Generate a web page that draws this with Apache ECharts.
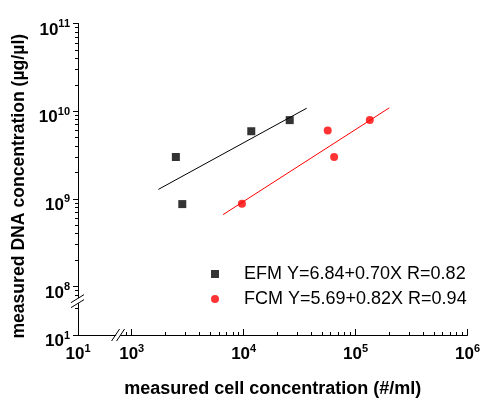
<!DOCTYPE html>
<html>
<head>
<meta charset="utf-8">
<script src="https://cdn.jsdelivr.net/npm/echarts@6/dist/echarts.min.js"></script>
<style>
  html, body { margin: 0; padding: 0; background: #fff; }
  #chart { width: 483px; height: 403px; }
</style>
</head>
<body>
<div id="chart"></div>
<script>
  // measured points (raw values)
  var efmX = [2480, 2830, 11700, 25800];
  var efmY = [3.0e9, 8.7e8, 5.9e9, 7.9e9];
  var fcmX = [9650, 56400, 64300, 134000];
  var fcmY = [8.8e8, 6.0e9, 3.0e9, 7.9e9];

  // fitted lines, end points as drawn
  var efmFitX = [1730, 36600];
  var efmFitY = [1.28e9, 1.08e10];
  var fcmFitX = [6550, 200000];
  var fcmFitY = [6.6e8, 1.09e10];

  var efmName = 'EFM Y=6.84+0.70X R=0.82';
  var fcmName = 'FCM Y=5.69+0.82X R=0.94';

  // tick labels (exponents of ten)
  var xTickExp = [1, 3, 4, 5, 6];
  var yTickExp = [1, 8, 9, 10, 11];

  // axis break: the low tick (10^1) sits just under the break
  var xLowPos = 2.52;   // where 10^1 is put on the x scale
  var yLowPos = 7.446;  // where 10^1 is put on the y scale
  var xBreakAt = 2.878;
  var yBreakAt = 7.838;

  var xMajor = [xLowPos, 3, 4, 5, 6];
  var yMajor = [yLowPos, 8, 9, 10, 11];

  var xMinor = [Math.log10(900)];
  for (var k = 3; k < 6; k++) {
    for (var m = 2; m <= 9; m++) xMinor.push(Math.log10(m) + k);
  }
  var yMinor = [yLowPos + Math.log10(2), Math.log10(8) + 7, Math.log10(9) + 7];
  for (var k2 = 8; k2 < 11; k2++) {
    for (var m2 = 2; m2 <= 9; m2++) yMinor.push(Math.log10(m2) + k2);
  }

  function toLog(xs, ys) {
    return xs.map(function (x, i) { return [Math.log10(x), Math.log10(ys[i])]; });
  }

  function expLabel(majors, exps) {
    return function (v) {
      for (var i = 0; i < majors.length; i++) {
        if (Math.abs(majors[i] - v) < 1e-6) return '{b|10}{s|' + exps[i] + '}';
      }
      return '';
    };
  }

  var fontFam = 'Liberation Sans, Arial, sans-serif';
  var richLbl = {
    b: { fontSize: 17, fontWeight: 'bold', fontFamily: fontFam, color: '#000', verticalAlign: 'bottom', lineHeight: 20 },
    s: { fontSize: 11, fontWeight: 'bold', fontFamily: fontFam, color: '#000', verticalAlign: 'bottom', lineHeight: 20, padding: [0, 0, 9, 0] }
  };
  var axisLineStyle = { show: true, onZero: false, lineStyle: { color: '#000', width: 1 } };

  var chart = echarts.init(document.getElementById('chart'));
  chart.setOption({
    animation: false,
    backgroundColor: '#fff',
    grid: { left: 78, right: 15, top: 23.5, bottom: 62 },
    legend: {
      left: 206,
      top: 260,
      orient: 'vertical',
      itemGap: 7,
      itemWidth: 8,
      itemHeight: 8,
      data: [efmName, fcmName],
      textStyle: { fontSize: 18, color: '#000', fontFamily: fontFam, padding: [0, 0, 0, 20] }
    },
    xAxis: [{
      type: 'value',
      min: xLowPos,
      max: 6,
      axisLine: axisLineStyle,
      axisTick: { show: true, inside: true, length: 6, customValues: xMajor, lineStyle: { color: '#000' } },
      axisLabel: {
        customValues: xMajor,
        margin: 8,
        fontSize: 17,
        fontWeight: 'bold',
        color: '#000',
        fontFamily: fontFam,
        formatter: expLabel(xMajor, xTickExp),
        rich: richLbl
      },
      splitLine: { show: false },
      name: 'measured cell concentration (#/ml)',
      nameLocation: 'middle',
      nameGap: 45,
      nameTextStyle: { fontSize: 18, fontWeight: 'bold', color: '#000', fontFamily: fontFam }
    }, {
      // minor ticks
      type: 'value',
      position: 'bottom',
      min: xLowPos,
      max: 6,
      axisLine: { show: false },
      axisTick: { show: true, inside: true, length: 3, customValues: xMinor, lineStyle: { color: '#000' } },
      axisLabel: { show: false },
      splitLine: { show: false }
    }],
    yAxis: [{
      type: 'value',
      min: yLowPos,
      max: 11,
      axisLine: axisLineStyle,
      axisTick: { show: true, inside: false, length: 5, customValues: yMajor, lineStyle: { color: '#000' } },
      axisLabel: {
        customValues: yMajor,
        margin: 8,
        padding: [10, 0, 0, 0],
        fontSize: 17,
        fontWeight: 'bold',
        color: '#000',
        fontFamily: fontFam,
        formatter: expLabel(yMajor, yTickExp),
        rich: richLbl
      },
      splitLine: { show: false },
      name: 'measured DNA concentration (µg/µl)',
      nameLocation: 'middle',
      nameRotate: 90,
      nameGap: 47,
      nameTextStyle: { fontSize: 17.6, fontWeight: 'bold', color: '#000', fontFamily: fontFam, padding: [0, 14, 0, 0] }
    }, {
      type: 'value',
      position: 'left',
      min: yLowPos,
      max: 11,
      axisLine: { show: false },
      axisTick: { show: true, inside: false, length: 3, customValues: yMinor, lineStyle: { color: '#000' } },
      axisLabel: { show: false },
      splitLine: { show: false }
    }],
    series: [{
      name: efmName + ' fit',
      type: 'line',
      data: toLog(efmFitX, efmFitY),
      symbol: 'none',
      lineStyle: { color: '#000', width: 1 },
      z: 1
    }, {
      name: fcmName + ' fit',
      type: 'line',
      data: toLog(fcmFitX, fcmFitY),
      symbol: 'none',
      lineStyle: { color: '#ff0000', width: 1 },
      z: 1
    }, {
      name: efmName,
      type: 'scatter',
      data: toLog(efmX, efmY),
      symbol: 'rect',
      symbolSize: 8,
      itemStyle: { color: '#000' },
      z: 3
    }, {
      name: fcmName,
      type: 'scatter',
      data: toLog(fcmX, fcmY),
      symbol: 'circle',
      symbolSize: 8,
      itemStyle: { color: '#ff0000' },
      z: 3
    }]
  });

  // break marks on the two axes
  var bx = chart.convertToPixel({ xAxisIndex: 0 }, xBreakAt);
  var by = chart.convertToPixel({ yAxisIndex: 0 }, yBreakAt);
  var axY = chart.convertToPixel({ yAxisIndex: 0 }, yLowPos);
  var axX = chart.convertToPixel({ xAxisIndex: 0 }, xLowPos);
  var brk = { stroke: '#000', lineWidth: 1 };
  chart.setOption({
    graphic: [
      { type: 'rect', shape: { x: bx - 2, y: axY - 2, width: 4, height: 4 }, style: { fill: '#fff' }, z: 10 },
      { type: 'line', shape: { x1: bx - 6.5, y1: axY + 6, x2: bx + 1.5, y2: axY - 6 }, style: brk, z: 11 },
      { type: 'line', shape: { x1: bx - 1.5, y1: axY + 6, x2: bx + 6.5, y2: axY - 6 }, style: brk, z: 11 },
      { type: 'rect', shape: { x: axX - 2, y: by - 2.5, width: 4, height: 5 }, style: { fill: '#fff' }, z: 10 },
      { type: 'line', shape: { x1: axX - 7, y1: by + 2, x2: axX + 6, y2: by - 6 }, style: brk, z: 11 },
      { type: 'line', shape: { x1: axX - 7, y1: by + 7, x2: axX + 6, y2: by - 1 }, style: brk, z: 11 }
    ]
  });
</script>
</body>
</html>
